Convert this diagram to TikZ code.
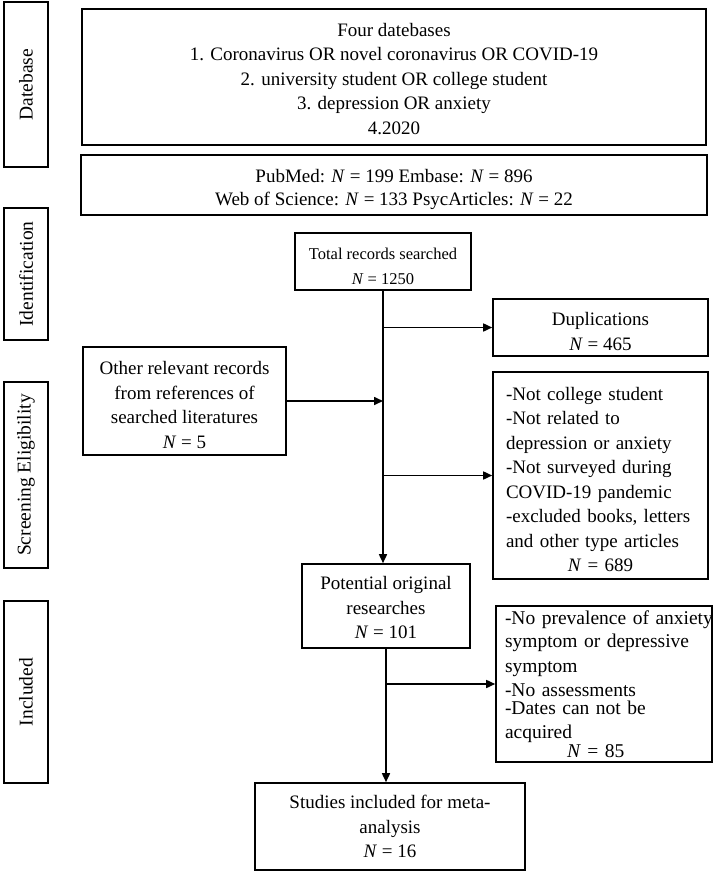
\documentclass[tikz,border=0pt]{standalone}
\usepackage{fontspec}
\setmainfont{Liberation Serif}
\usetikzlibrary{arrows.meta}
\newcommand\mystrut[1]{\rule{0pt}{#1}}
\begin{document}
\begin{tikzpicture}[x=1pt,y=-1pt,
  box/.style={draw, line width=1.6pt, inner sep=0pt, align=center,
    font=\fontsize{19}{24.5}\selectfont},
  lbox/.style={draw, line width=1.6pt, inner ysep=0pt, align=left,
    font=\fontsize{19}{24.5}\selectfont},
  lab/.style={draw, line width=1.6pt, inner sep=0pt, rotate=90,
    minimum height=44pt, font=\fontsize{19.5}{22}\selectfont},
  arr/.style={line width=1.6pt, -{Triangle[length=9pt,width=8pt]}}]
\useasboundingbox (0,0) rectangle (714,875);

% side labels
\node[lab, minimum width=165pt] (l1) at (26,84.5) {Datebase};
\node[lab, minimum width=132pt] (l2) at (26,274) {Identification};
\node[lab, minimum width=186pt] (l3) at (26,475) {Screening Eligibility};
\node[lab, minimum width=182pt] (l4) at (26,692) {Included};

% boxes
\node[box, minimum width=624pt, minimum height=136pt] (db) at (394,77)
  {\mystrut{17pt}Four datebases\\1. Coronavirus OR novel coronavirus OR COVID-19\\2. university student OR college student\\3. depression OR anxiety\\4.2020};
\node[box, minimum width=626pt, minimum height=60pt] (src) at (394,185)
  {\mystrut{23pt}PubMed: \textit{N} = 199 Embase: \textit{N} = 896\\[-1.5pt]Web of Science: \textit{N} = 133 PsycArticles: \textit{N} = 22};
\node[box, minimum width=176pt, minimum height=57pt,
  font=\fontsize{16.5}{25}\selectfont] (tot) at (383,261.5)
  {\mystrut{21pt}Total records searched\\\textit{N} = 1250};
\node[box, minimum width=215pt, minimum height=57pt] (dup) at (600.5,327.5)
  {\mystrut{21pt}Duplications\\\textit{N} = 465};
\node[box, minimum width=203pt, minimum height=108pt] (oth) at (184.5,401)
  {\mystrut{21pt}Other relevant records\\from references of\\searched literatures\\\textit{N} = 5};
\node[lbox, minimum width=215pt, minimum height=207pt, inner xsep=13pt,
  text width=189pt] (ex1) at (600.5,475.5)
  {\mystrut{21pt}-Not college student\\-Not related to\\depression or anxiety\\-Not surveyed during\\COVID-19 pandemic\\-excluded books, letters\\and other type articles\\\hspace*{\fill}\textit{N} = 689\hspace*{\fill}\null};
\node[box, minimum width=168pt, minimum height=84pt] (pot) at (386,606)
  {\mystrut{17pt}Potential original\\researches\\\textit{N} = 101};
\node[lbox, minimum width=216pt, minimum height=156pt, inner xsep=0pt,
  text width=216pt, font=\fontsize{19.5}{24.5}\selectfont] (ex2) at (604,684)
  {\leftskip=9pt \mbox{-No prevalence of anxiety}\\[-1.5pt]symptom or depressive\\[0.5pt]symptom\\[-0.5pt]-No assessments\\[-6.5pt]-Dates can not be\\[-0.5pt]acquired\\[-5.5pt]\hspace*{71pt}\textit{N} = 85};
\node[box, minimum width=270pt, minimum height=87pt] (stu) at (390,826.5)
  {Studies included for meta-\\analysis\\\textit{N} = 16};

% connectors
\draw[arr] (tot.south) -- (tot.south |- pot.north);
\draw[arr] (tot.south |- dup.west) -- (dup.west);
\draw[arr] (oth.east) -- (oth.east -| tot.south);
\draw[arr] (tot.south |- ex1.west) -- (ex1.west);
\draw[arr] (pot.south) -- (pot.south |- stu.north);
\draw[arr] (pot.south |- ex2.west) -- (ex2.west);
\end{tikzpicture}
\end{document}
